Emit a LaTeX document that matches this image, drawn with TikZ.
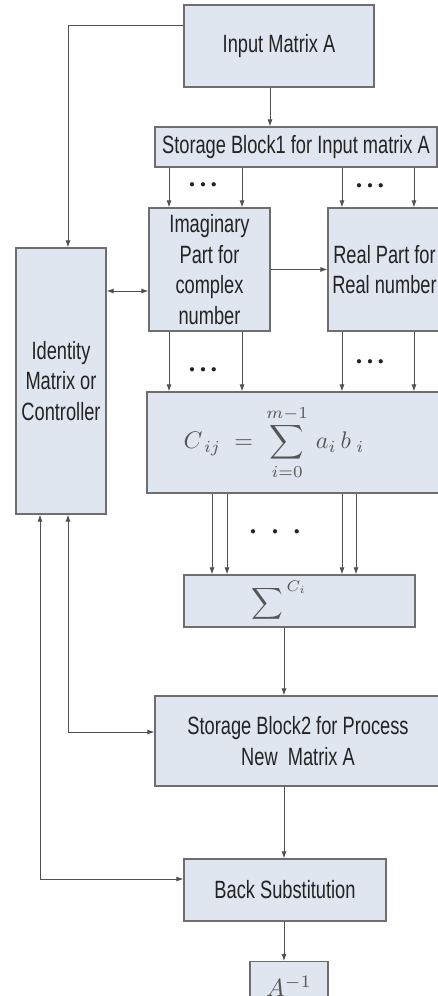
\documentclass[tikz,border=0pt]{standalone}
\usepackage{graphicx}
\usepackage{fontspec}
\setmainfont{Liberation Sans}[FakeStretch=0.73]
\usetikzlibrary{arrows.meta}
\definecolor{boxfill}{RGB}{223,230,240}
\definecolor{boxline}{RGB}{110,110,110}
\definecolor{wire}{RGB}{80,80,80}
\definecolor{ink}{RGB}{35,35,35}
\definecolor{mathink}{RGB}{85,85,85}
\newcommand{\tenpt}{\fontsize{10}{12}\selectfont}
\begin{document}
\begin{tikzpicture}[x=1pt,y=-1pt,
  blk/.style={draw=boxline,line width=1.2pt,fill=boxfill,inner sep=0pt,align=center,text=ink,font=\fontsize{25}{30.5}\selectfont},
  mathblk/.style={blk,text=mathink},
  arr/.style={draw=wire,line width=0.9pt,-{Latex[length=7pt,width=5pt]}},
  dbl/.style={draw=wire,line width=0.9pt,{Latex[length=7pt,width=5pt]}-{Latex[length=7pt,width=5pt]}},
  dotrow/.style={inner sep=0pt,text=ink,font=\fontsize{11}{11}\selectfont}]
\useasboundingbox (0,0) rectangle (438,996);
\clip (0,0) rectangle (438,996);
\fill[white] (0,0) rectangle (438,996);

% boxes
\node[blk,minimum width=190pt,minimum height=82pt] (in) at (279,46) {Input Matrix A};
\node[blk,minimum width=282pt,minimum height=40pt] (st1) at (296,147) {Storage Block1 for Input matrix A};
\node[blk,minimum width=121pt,minimum height=123pt] (img) at (209.5,269.5) {Imaginary\\Part for\\complex\\number};
\node[blk,minimum width=113pt,minimum height=123pt] (real) at (384.5,269.5) {Real Part for\\Real number};
\node[blk,minimum width=90pt,minimum height=266pt] (ctl) at (61,381) {Identity\\Matrix or\\Controller};
\node[mathblk,minimum width=294pt,minimum height=101pt] (cij) at (294,442.5)
  {\scalebox{2.4}{\tenpt$\displaystyle C_{\,ij}\;=\;\sum_{i=0}^{m-1}\,a_{i}\,b_{\;i}$}\hspace{40pt}};
\node[mathblk,minimum width=231pt,minimum height=52pt] (sum) at (299.5,601)
  {\scalebox{2.2}{\tenpt$\displaystyle\sum\nolimits^{\,C_{i}}$}\hspace{40pt}};
\node[blk,minimum width=286pt,minimum height=90pt] (st2) at (298,741) {Storage Block2 for Process\\New~~Matrix A};
\node[blk,minimum width=202pt,minimum height=62pt] (bs) at (285,890) {Back Substitution};
\node[mathblk,minimum width=78pt,minimum height=50pt,anchor=north] (ainv) at (289,961) {\scalebox{2.5}{\tenpt$A^{-1}$}};

% dots
\node[dotrow] (d1) at (203,185) {$\bullet\;\bullet\;\bullet$};
\node[dotrow] (d2) at (370,186) {$\bullet\;\bullet\;\bullet$};
\node[dotrow] (d3) at (203,370) {$\bullet\;\bullet\;\bullet$};
\node[dotrow] (d4) at (370,362) {$\bullet\;\bullet\;\bullet$};
\node[dotrow] (d5) at (275,532) {$\bullet\hspace{14pt}\bullet\hspace{14pt}\bullet$};

% connectors
\draw[arr] (in.south -| 270,0) -- (st1.north -| 270,0);
\foreach \xx in {169,242} {
  \draw[arr] (st1.south -| \xx,0) -- (img.north -| \xx,0);
  \draw[arr] (img.south -| \xx,0) -- (cij.north -| \xx,0);
}
\foreach \xx in {342,414} {
  \draw[arr] (st1.south -| \xx,0) -- (real.north -| \xx,0);
  \draw[arr] (real.south -| \xx,0) -- (cij.north -| \xx,0);
}
\foreach \xx in {212,227,342,356} {
  \draw[arr] (cij.south -| \xx,0) -- (sum.north -| \xx,0);
}
\draw[arr] (img.east) -- (real.west);
\draw[dbl] (ctl.east |- 0,291) -- (img.west |- 0,291);
\draw[arr] (in.west |- 0,25) -| (ctl.north -| 68,0);
\draw[arr] (sum.south -| 284,0) -- (st2.north -| 284,0);
\draw[arr] (st2.south -| 284,0) -- (bs.north -| 284,0);
\draw[arr] (bs.south -| 284,0) -- (ainv.north -| 284,0);
\draw[dbl] (ctl.south -| 68,0) |- (st2.west |- 0,732);
\draw[dbl] (ctl.south -| 40,0) |- (bs.west |- 0,879);
\end{tikzpicture}
\end{document}
